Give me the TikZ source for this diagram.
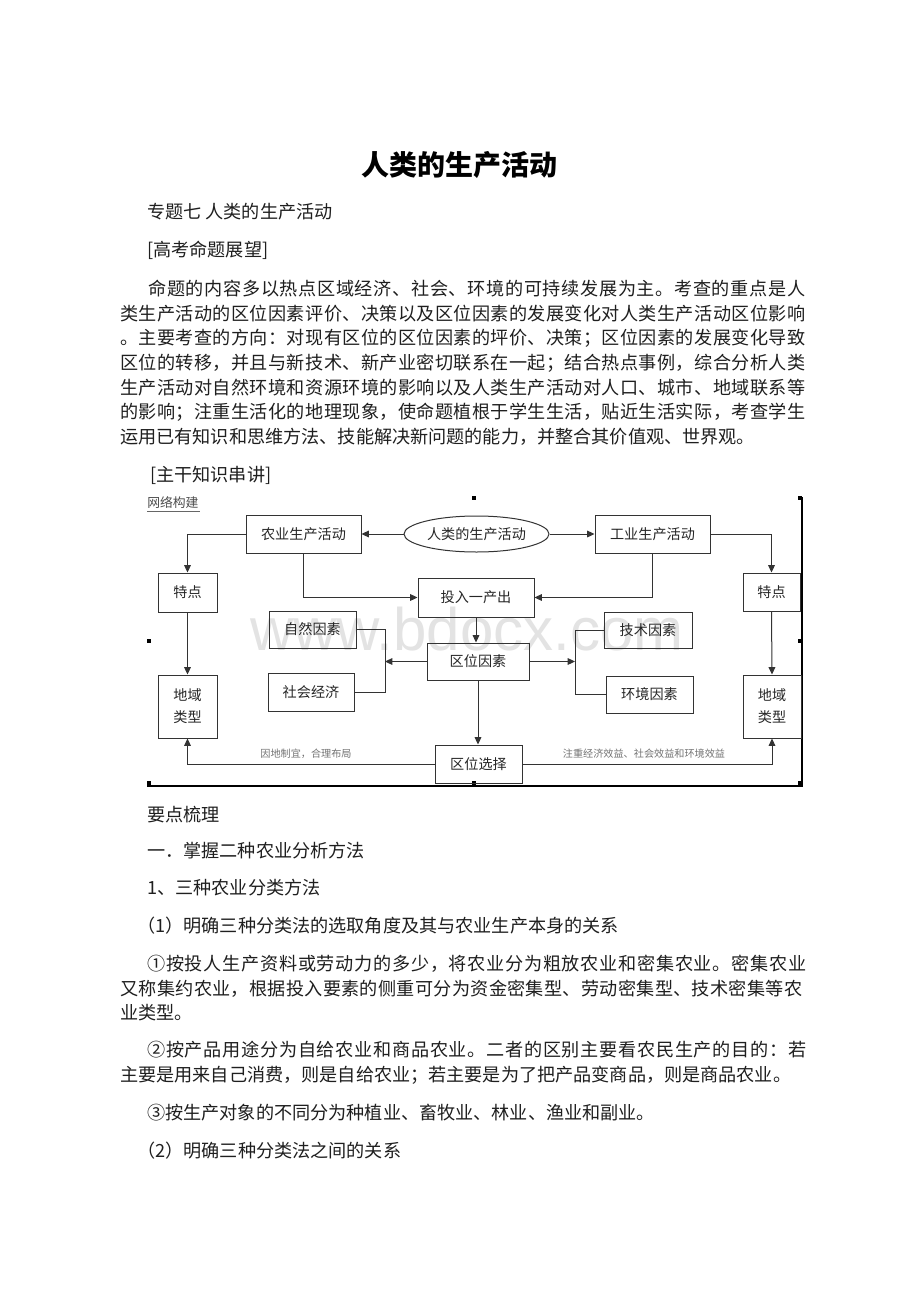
\documentclass[tikz,border=0pt]{standalone}
\usepackage{fontspec}
\setmainfont{Noto Sans CJK SC}
\newfontfamily\wmfont{Liberation Sans}
\usetikzlibrary{arrows.meta,shapes.geometric}
\def\jsEnd{}
\def\jsA#1{#1\jsB}
\def\jsB#1{\ifx\jsEnd#1\else\hfil#1\expandafter\jsB\fi}
\newcommand\jl[2]{\makebox[#1][s]{\jsA#2\jsEnd}}
\begin{document}
\begin{tikzpicture}[x=0.75pt,y=-0.75pt,
  body/.style={anchor=west,inner sep=0pt,font=\fontsize{13.6}{16}\selectfont,text=black!88},
  box/.style={draw=black!80,line width=0.75pt,inner sep=0pt,font=\fontsize{10.6}{14}\selectfont,text=black!85},
  conn/.style={draw=black!80,line width=0.75pt},
  arr/.style={conn,-{Triangle[length=5.5pt,width=5pt]}},
  handle/.style={fill=black,inner sep=0pt,minimum size=3.6pt},
  lbl/.style={inner sep=0pt,font=\fontsize{7.6}{9}\selectfont,text=black!55}]
\useasboundingbox (0,0) rectangle (920,1302);
\fill[white] (0,0) rectangle (920,1302);
% title and text
\node[inner sep=0pt,font=\fontsize{21}{24}\selectfont\bfseries] (title) at (459,165) {人类的生产活动};
\node[body] (t1) at (147,212) {专题七 人类的生产活动};
\node[body] (t2) at (147,250) {[高考命题展望]};
\node[body] (p1) at (148,289) {\jl{492.75pt}{命题的内容多以热点区域经济、社会、环境的可持续发展为主。考查的重点是人}};
\node[body] (p2) at (120,314) {\jl{513.75pt}{类生产活动的区位因素评价、决策以及区位因素的发展变化对人类生产活动区位影响}};
\node[body] (p3) at (120,338) {\jl{513.75pt}{。主要考查的方向：对现有区位的区位因素的坪价、决策；区位因素的发展变化导致}};
\node[body] (p4) at (120,363) {\jl{513.75pt}{区位的转移，并且与新技术、新产业密切联系在一起；结合热点事例，综合分析人类}};
\node[body] (p5) at (120,388) {\jl{513.75pt}{生产活动对自然环境和资源环境的影响以及人类生产活动对人口、城市、地域联系等}};
\node[body] (p6) at (120,412) {\jl{513.75pt}{的影响；注重生活化的地理现象，使命题植根于学生生活，贴近生活实际，考查学生}};
\node[body] (p7) at (120,437) {运用已有知识和思维方法、技能解决新问题的能力，并整合其价值观、世界观。};
\node[body] (t3) at (150,475) {[主干知识串讲]};
\node[body] (s1) at (147,815) {要点梳理};
\node[body] (s2) at (147,851) {一．掌握二种农业分析方法};
\node[body] (s3) at (147,888) {1、三种农业分类方法};
\node[body] (s4) at (137,926) {（1）明确三种分类法的选取角度及其与农业生产本身的关系};
\node[body] (q1) at (147,964) {\jl{494.25pt}{①按投人生产资料或劳动力的多少，将农业分为粗放农业和密集农业。密集农业}};
\node[body] (q2) at (120,989) {\jl{511.5pt}{又称集约农业，根据投入要素的侧重可分为资金密集型、劳动密集型、技术密集等农}};
\node[body] (q3) at (120,1013) {业类型。};
\node[body] (r1) at (147,1050) {\jl{494.25pt}{②按产品用途分为自给农业和商品农业。二者的区别主要看农民生产的目的：若}};
\node[body] (r2) at (120,1075) {主要是用来自己消费，则是自给农业；若主要是为了把产品变商品，则是商品农业。};
\node[body] (u1) at (147,1113) {③按生产对象的不同分为种植业、畜牧业、林业、渔业和副业。};
\node[body] (u2) at (137,1151) {（2）明确三种分类法之间的关系};
% watermark
\node[anchor=base west,inner sep=0pt,font=\wmfont\fontsize{45}{50}\selectfont,text=black!11] (wm) at (250,650) {www.bdocx.com};
% header
\node[anchor=west,inner sep=0pt,font=\fontsize{9.6}{11}\selectfont,text=black!70] (hd) at (147,503) {网络构建};
\draw[black!60,line width=0.6pt] (hd.south west) ++(0,2) -- ++(53,0);
% frame
\draw[black,line width=1.4pt] (147,786) -- (802,786) -- (802,497);
\node[handle] (h1) at (474,498) {};
\node[handle] (h2) at (800,498) {};
\node[handle] (h3) at (149,641) {};
\node[handle] (h4) at (800,641) {};
\node[handle] (h5) at (149,783) {};
\node[handle] (h6) at (474,783) {};
\node[handle] (h7) at (800,783) {};
% boxes
\node[box,ellipse,minimum width=108.75pt,minimum height=27pt] (ell) at (476.5,534) {人类的生产活动};
\node[box,minimum width=86.25pt,minimum height=28.5pt] (nong) at (303.5,534) {农业生产活动};
\node[box,minimum width=86.25pt,minimum height=28.5pt] (gong) at (652.5,534) {工业生产活动};
\node[box,minimum width=44.25pt,minimum height=29.25pt] (tdL) at (187.5,592.5) {特点};
\node[box,minimum width=42.75pt,minimum height=28.5pt] (tdR) at (771.5,592) {特点};
\node[box,minimum width=87pt,minimum height=29.25pt] (tou) at (476,597.5) {投入一产出};
\node[box,minimum width=65.25pt,minimum height=27.75pt] (zr) at (312.5,629.5) {自然因素};
\node[box,minimum width=64.5pt,minimum height=28.5pt] (sh) at (311,692) {社会经济};
\node[box,minimum width=76.5pt,minimum height=27.75pt] (qy) at (478,661.5) {区位因素};
\node[box,minimum width=66pt,minimum height=27pt] (js) at (648,630) {技术因素};
\node[box,minimum width=65.25pt,minimum height=27.75pt] (hj) at (649.5,694.5) {环境因素};
\node[box,minimum width=44.25pt,minimum height=47.25pt,align=center,font=\fontsize{10.6}{16.5}\selectfont] (dyL) at (187.5,706.5) {地域\\类型};
\node[box,minimum width=43.5pt,minimum height=47.25pt,align=center,font=\fontsize{10.6}{16.5}\selectfont] (dyR) at (772,706.5) {地域\\类型};
\node[box,minimum width=65.25pt,minimum height=28.5pt] (xz) at (478.5,764) {区位选择};
% connectors
\draw[arr] (ell.west) -- (nong.east);
\draw[arr] (ell.east) -- (gong.west);
\draw[arr] (nong.west) -| (tdL.north);
\draw[arr] (gong.east) -| (tdR.north);
\draw[arr] (nong.south) |- (tou.west);
\draw[arr] (gong.south) |- (tou.east);
\draw[arr] (tou.south) -- (tou.south |- qy.north);
\draw[arr] (tdL.south) -- (dyL.north);
\draw[arr] (tdR.south) -- (dyR.north);
\draw[arr] (qy.south) -- (qy.south |- xz.north);
\coordinate (blt) at (385,629.5);
\coordinate (blb) at (385,692);
\coordinate (bl) at (385,661.5);
\draw[conn] (zr.east) -- (blt) -- (blb) -- (sh.east);
\draw[arr] (qy.west) -- (bl);
\coordinate (brt) at (575,630);
\coordinate (brb) at (575,694.5);
\coordinate (br) at (575,661.5);
\draw[conn] (js.west) -- (brt) -- (brb) -- (hj.west);
\draw[arr] (qy.east) -- (br);
\draw[arr] (xz.west) -| (dyL.south);
\draw[arr] (xz.east) -| (dyR.south);
\node[lbl] (lL) at (306,754) {因地制宜，合理布局};
\node[lbl] (lR) at (644,754) {注重经济效益、社会效益和环境效益};
\end{tikzpicture}
\end{document}
